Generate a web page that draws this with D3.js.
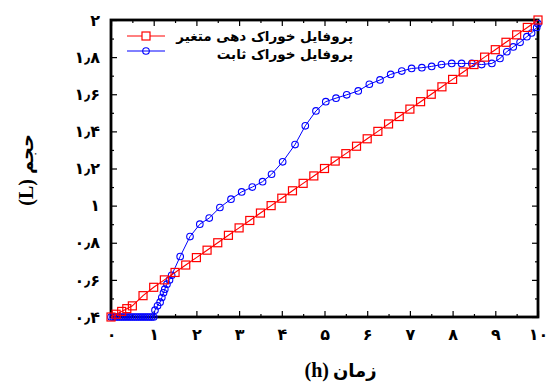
<!DOCTYPE html>
<html lang="fa">
<head>
    <meta charset="UTF-8">
    <script src="https://d3js.org/d3.v7.min.js"></script>
    <style>
        body { margin: 0; background: #fff; }
        text { font-family: "DejaVu Sans", sans-serif; font-weight: bold; }
        .latin { font-family: "Liberation Serif", serif; font-weight: bold; }
    </style>
</head>
<body>
    <svg id="chart" width="554" height="383"></svg>
    <script>
        // tick values
        const xTicks = [0, 1, 2, 3, 4, 5, 6, 7, 8, 9, 10];
        const xMinor = [0.5, 1.5, 2.5, 3.5, 4.5, 5.5, 6.5, 7.5, 8.5, 9.5];
        const yTicks = [0.4, 0.6, 0.8, 1.0, 1.2, 1.4, 1.6, 1.8, 2.0];
        const yMinor = [0.5, 0.7, 0.9, 1.1, 1.3, 1.5, 1.7, 1.9];

        // variable feed profile (red)
        const redTime = [0, 0.12, 0.25, 0.37, 0.5, 0.75, 1.0, 1.25, 1.5, 1.75, 2.0, 2.25, 2.5, 2.75,
            3.0, 3.25, 3.5, 3.75, 4.0, 4.25, 4.5, 4.75, 5.0, 5.25, 5.5, 5.75, 6.0, 6.25, 6.5, 6.75,
            7.0, 7.25, 7.5, 7.75, 8.0, 8.25, 8.5, 8.75, 9.0, 9.25, 9.5, 9.75, 10.0];
        const redVolume = [0.4, 0.415, 0.43, 0.445, 0.46, 0.515, 0.56, 0.6, 0.64, 0.68, 0.72, 0.76, 0.8, 0.84,
            0.88, 0.92, 0.96, 1.0, 1.04, 1.08, 1.12, 1.16, 1.2, 1.24, 1.28, 1.32, 1.36, 1.4, 1.44, 1.48,
            1.52, 1.56, 1.6, 1.64, 1.68, 1.72, 1.76, 1.8, 1.84, 1.88, 1.92, 1.96, 2.0];

        // constant feed profile (blue)
        const blueTime = [0, 0.05, 0.1, 0.15, 0.2, 0.25, 0.3, 0.35, 0.4, 0.45, 0.5, 0.55, 0.6, 0.65, 0.7,
            0.75, 0.8, 0.85, 0.9, 0.95, 1.0, 1.03, 1.09, 1.15, 1.19, 1.23, 1.26, 1.31, 1.37, 1.42, 1.62,
            1.85, 2.08, 2.3, 2.55, 2.81, 3.06, 3.31, 3.55, 3.76, 4.02, 4.31, 4.55, 4.8, 5.03, 5.27, 5.52,
            5.79, 6.05, 6.3, 6.55, 6.81, 7.04, 7.28, 7.51, 7.74, 7.98, 8.21, 8.45, 8.68, 8.92, 9.11, 9.27,
            9.42, 9.58, 9.74, 9.85, 9.97, 10.0];
        const blueVolume = [0.4, 0.4, 0.4, 0.4, 0.4, 0.4, 0.4, 0.4, 0.4, 0.4, 0.4, 0.4, 0.4, 0.4, 0.4,
            0.4, 0.4, 0.4, 0.4, 0.4, 0.4, 0.437, 0.46, 0.48, 0.505, 0.53, 0.55, 0.577, 0.6, 0.625, 0.726,
            0.833, 0.9, 0.933, 0.99, 1.035, 1.074, 1.1, 1.129, 1.169, 1.236, 1.329, 1.43, 1.51, 1.56, 1.579, 1.597,
            1.618, 1.654, 1.677, 1.707, 1.725, 1.739, 1.743, 1.75, 1.76, 1.766, 1.766, 1.766, 1.76, 1.766, 1.793, 1.829,
            1.855, 1.88, 1.91, 1.93, 1.96, 1.98];

        const seriesNames = ["پروفایل خوراک دهی متغیر", "پروفایل خوراک ثابت"];
        const xTitle = "زمان";
        const yTitle = "حجم";

        const faDigits = "۰۱۲۳۴۵۶۷۸۹";
        const toFa = s => String(s).replace(/[0-9]/g, c => faDigits[+c]).replace(".", "٫");

        const svg = d3.select("#chart");
        const margin = { top: 20, right: 16, bottom: 66, left: 111 };
        const width = 554, height = 383;

        const x = d3.scaleLinear().domain([0, 10]).range([margin.left, width - margin.right]);
        const y = d3.scaleLinear().domain([0.4, 2.0]).range([height - margin.bottom, margin.top]);

        const redData = redTime.map((t, i) => ({ t, v: redVolume[i] }));
        const blueData = blueTime.map((t, i) => ({ t, v: blueVolume[i] }));

        // ticks on all four sides, pointing inwards
        const pBottom = height - margin.bottom, pTop = margin.top;
        const pLeft = margin.left, pRight = width - margin.right;

        svg.append("g").attr("transform", `translate(0,${pBottom})`)
            .call(d3.axisBottom(x).tickValues(xTicks).tickSize(-6).tickPadding(12).tickFormat(toFa))
            .call(g => g.select(".domain").remove())
            .call(g => g.selectAll("text").style("font-size", "16px").attr("fill", "#000"));
        svg.append("g").attr("transform", `translate(0,${pBottom})`)
            .call(d3.axisBottom(x).tickValues(xMinor).tickSize(-3).tickFormat(""))
            .call(g => g.select(".domain").remove());
        svg.append("g").attr("transform", `translate(0,${pTop})`)
            .call(d3.axisTop(x).tickValues(xTicks).tickSize(-6).tickFormat(""))
            .call(g => g.select(".domain").remove());
        svg.append("g").attr("transform", `translate(0,${pTop})`)
            .call(d3.axisTop(x).tickValues(xMinor).tickSize(-3).tickFormat(""))
            .call(g => g.select(".domain").remove());

        svg.append("g").attr("transform", `translate(${pLeft},0)`)
            .call(d3.axisLeft(y).tickValues(yTicks).tickSize(-6).tickPadding(11).tickFormat(d => toFa(d3.format("~g")(d))))
            .call(g => g.select(".domain").remove())
            .call(g => g.selectAll("text").style("font-size", "16px").attr("fill", "#000"));
        svg.append("g").attr("transform", `translate(${pLeft},0)`)
            .call(d3.axisLeft(y).tickValues(yMinor).tickSize(-3).tickFormat(""))
            .call(g => g.select(".domain").remove());
        svg.append("g").attr("transform", `translate(${pRight},0)`)
            .call(d3.axisRight(y).tickValues(yTicks).tickSize(-6).tickFormat(""))
            .call(g => g.select(".domain").remove());
        svg.append("g").attr("transform", `translate(${pRight},0)`)
            .call(d3.axisRight(y).tickValues(yMinor).tickSize(-3).tickFormat(""))
            .call(g => g.select(".domain").remove());

        svg.selectAll(".tick line").attr("stroke", "#000").attr("stroke-width", 1.2);

        // frame
        svg.append("rect")
            .attr("x", pLeft).attr("y", pTop)
            .attr("width", pRight - pLeft).attr("height", pBottom - pTop)
            .attr("fill", "none").attr("stroke", "#000").attr("stroke-width", 2.8);

        const line = d3.line().x(d => x(d.t)).y(d => y(d.v));

        // blue series
        svg.append("path").datum(blueData)
            .attr("fill", "none").attr("stroke", "#0000ff").attr("stroke-width", 1)
            .attr("d", line);
        svg.append("g").selectAll("circle").data(blueData).enter().append("circle")
            .attr("cx", d => x(d.t)).attr("cy", d => y(d.v)).attr("r", 3.3)
            .attr("fill", "none").attr("stroke", "#0000ff").attr("stroke-width", 1.1);

        // red series
        svg.append("path").datum(redData)
            .attr("fill", "none").attr("stroke", "#ff0000").attr("stroke-width", 1.1)
            .attr("d", line);
        svg.append("g").selectAll("rect").data(redData).enter().append("rect")
            .attr("x", d => x(d.t) - 4).attr("y", d => y(d.v) - 4)
            .attr("width", 8).attr("height", 8)
            .attr("fill", "none").attr("stroke", "#ff0000").attr("stroke-width", 1.2);

        // legend
        const legend = svg.append("g");
        [["#ff0000", "square"], ["#0000ff", "circle"]].forEach(([c, m], i) => {
            const ly = 36 + i * 15;
            legend.append("line").attr("x1", 127).attr("x2", 165).attr("y1", ly).attr("y2", ly)
                .attr("stroke", c).attr("stroke-width", 1);
            if (m === "square") {
                legend.append("rect").attr("x", 142).attr("y", ly - 4).attr("width", 8).attr("height", 8)
                    .attr("fill", "#fff").attr("stroke", c).attr("stroke-width", 1.2);
            } else {
                legend.append("circle").attr("cx", 146).attr("cy", ly).attr("r", 3.3)
                    .attr("fill", "none").attr("stroke", c).attr("stroke-width", 1.1);
            }
            legend.append("text").attr("x", 353).attr("y", ly + 5 + i * 3)
                .attr("text-anchor", "end").style("font-size", "13.5px")
                .text(seriesNames[i]);
        });

        // axis titles
        svg.append("text").attr("class", "latin").attr("x", 329).attr("y", 377)
            .attr("text-anchor", "end").style("font-size", "20px").text("(h)");
        svg.append("text").attr("x", 333).attr("y", 377)
            .attr("text-anchor", "start").style("font-size", "18px").text(xTitle);

        const yt = svg.append("g").attr("transform", "translate(33,174) rotate(-90)");
        yt.append("text").attr("class", "latin").attr("x", -5).attr("y", 0)
            .attr("text-anchor", "end").style("font-size", "20px").text("(L)");
        yt.append("text").attr("x", 0).attr("y", 0)
            .attr("text-anchor", "start").style("font-size", "18px").text(yTitle);
    </script>
</body>
</html>
